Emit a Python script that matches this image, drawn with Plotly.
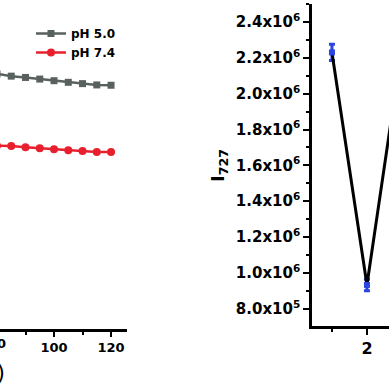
import plotly.graph_objects as go

# ---- data ----
time_min = [80, 85, 90, 95, 100, 105, 110, 115, 120]
release_ph50 = [78.5, 77.8, 77.4, 76.9, 76.4, 75.9, 75.5, 75.1, 75.0]
release_ph74 = [56.4, 56.3, 55.9, 55.6, 55.3, 55.0, 54.8, 54.5, 54.5]

sample_idx = [1, 2, 3]
i727 = [2.23e6, 0.933e6, 2.26e6]
i727_err = [0.045e6, 0.032e6, 0.04e6]

y2_tickvals = [8e5, 1.0e6, 1.2e6, 1.4e6, 1.6e6, 1.8e6, 2.0e6, 2.2e6, 2.4e6]
y2_ticktext = ["8.0x10<sup>5</sup>", "1.0x10<sup>6</sup>", "1.2x10<sup>6</sup>",
               "1.4x10<sup>6</sup>", "1.6x10<sup>6</sup>", "1.8x10<sup>6</sup>",
               "2.0x10<sup>6</sup>", "2.2x10<sup>6</sup>", "2.4x10<sup>6</sup>"]

FONT = "DejaVu Sans"
W = H = 389
GRAY = "#59615f"
RED = "#e8202e"
BLUE = "#2a44e0"

fig = go.Figure()
fig.add_trace(go.Scatter(x=time_min, y=release_ph50, mode="lines+markers", name="pH 5.0",
                         line=dict(color=GRAY, width=2.5),
                         marker=dict(symbol="square", size=7, color=GRAY),
                         xaxis="x", yaxis="y"))
fig.add_trace(go.Scatter(x=time_min, y=release_ph74, mode="lines+markers", name="pH 7.4",
                         line=dict(color=RED, width=2.5),
                         marker=dict(symbol="circle", size=8, color=RED),
                         xaxis="x", yaxis="y"))
fig.add_trace(go.Scatter(x=sample_idx, y=i727, mode="lines+markers", showlegend=False,
                         line=dict(color="black", width=3),
                         marker=dict(symbol="square", size=6, color=BLUE),
                         error_y=dict(type="data", array=i727_err, color=BLUE, thickness=3, width=3),
                         xaxis="x2", yaxis="y2"))

axis_common = dict(showline=True, linecolor="black", linewidth=2.5, showgrid=False,
                   zeroline=False, ticks="outside", tickcolor="black", tickwidth=2,
                   automargin=False)

fig.update_layout(
    width=W, height=H,
    margin=dict(l=0, r=0, t=0, b=0, autoexpand=False),
    paper_bgcolor="white", plot_bgcolor="white",
    font=dict(family=FONT, color="black"),
    xaxis=dict(domain=[0, 127 / W], range=[81.05, 125.6], anchor="y",
               tick0=0, dtick=20, ticklen=5,
               minor=dict(tick0=0, dtick=10, ticklen=3, ticks="outside", tickcolor="black", tickwidth=2),
               tickfont=dict(family=FONT, size=13, weight="bold"), **axis_common),
    yaxis=dict(domain=[60 / H, 385 / H], range=[0, 100], visible=False, anchor="x",
               automargin=False),
    xaxis2=dict(domain=[312 / W, 1], range=[0.43, 2.63], anchor="y2",
                tick0=0, dtick=2, ticklen=6,
                minor=dict(tick0=0, dtick=1, ticklen=3, ticks="outside", tickcolor="black", tickwidth=2),
                tickfont=dict(family=FONT, size=16, weight="bold"), **axis_common),
    yaxis2=dict(domain=[63 / H, 385 / H], range=[7.04e5, 2.5e6], anchor="x2",
                tickmode="array", tickvals=y2_tickvals, ticktext=y2_ticktext, ticklen=6,
                minor=dict(tick0=0, dtick=1e5, ticklen=3, ticks="outside", tickcolor="black", tickwidth=2),
                tickfont=dict(family=FONT, size=15, weight="bold"), **axis_common),
    legend=dict(x=31 / W, y=(H - 19) / H, xanchor="left", yanchor="top",
                bgcolor="rgba(0,0,0,0)", borderwidth=0,
                font=dict(family=FONT, size=12, weight="bold"), tracegroupgap=0),
    annotations=[
        dict(text="80", x=-3 / W, y=(H - 343) / H, xref="paper", yref="paper",
             xanchor="center", yanchor="middle", showarrow=False,
             font=dict(family=FONT, size=13, weight="bold")),
        dict(text="Time (min)", x=7 / W, y=(H - 373) / H, xref="paper", yref="paper",
             xanchor="right", yanchor="middle", showarrow=False,
             font=dict(family=FONT, size=21)),
        dict(text="I<sub>727</sub>", x=219 / W, y=(H - 166) / H, xref="paper", yref="paper",
             xanchor="center", yanchor="middle", showarrow=False, textangle=-90,
             font=dict(family=FONT, size=18, weight="bold")),
    ],
)

fig.write_html("out.html", config={"displayModeBar": False},
               post_script="document.body.style.margin='0';document.body.style.overflow='hidden';")
